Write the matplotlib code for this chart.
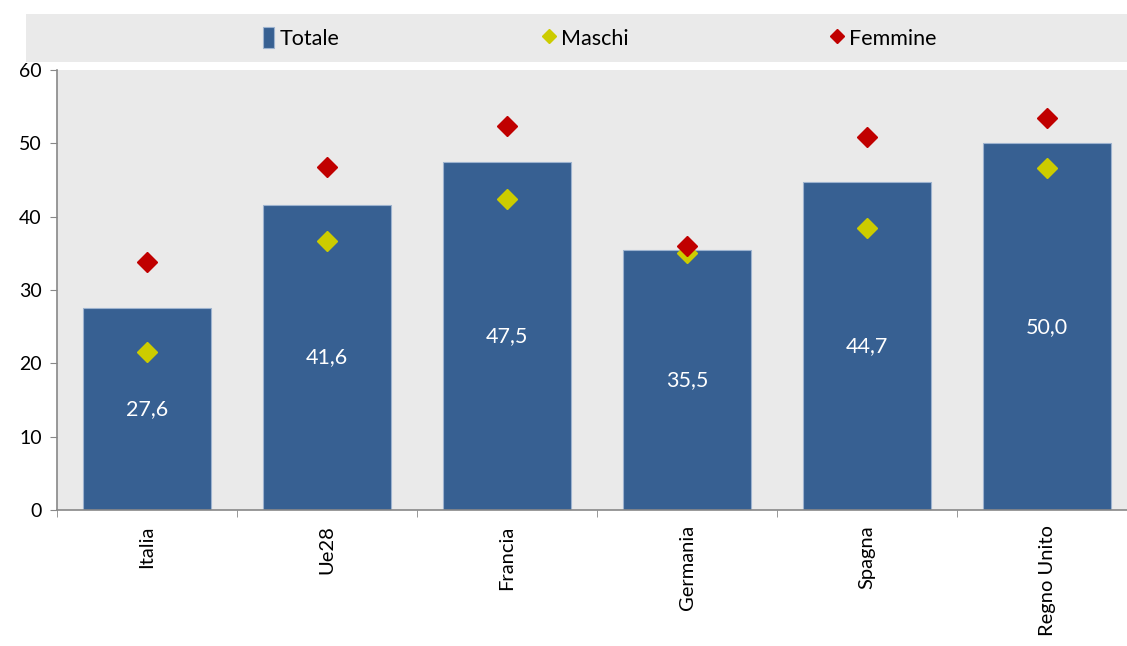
# bar chart with male / female markers per country
import matplotlib.pyplot as plt
import numpy as np
from matplotlib.patches import Rectangle

paesi = ["Italia", "Ue28", "Francia", "Germania", "Spagna", "Regno Unito"]
totale = [27.6, 41.6, 47.5, 35.5, 44.7, 50.0]
maschi = [21.6, 36.7, 42.4, 35.1, 38.5, 46.6]
femmine = [33.8, 46.8, 52.3, 36.0, 50.9, 53.4]

plt.rcParams['font.family'] = ['Lato', 'DejaVu Sans']

fig = plt.figure(figsize=(11.27, 6.46), dpi=100)
ax = fig.add_axes([0.0506, 0.2105, 0.9494, 0.6811])
ax.set_facecolor('#EAEAEA')

x = np.arange(len(paesi))
bars = ax.bar(x, totale, width=0.71, color='#376092', edgecolor='#9DB3CF',
              linewidth=0.8, label='Totale', zorder=2)
m_line, = ax.plot(x, maschi, 'D', color='#CCCC00', ms=10, label='Maschi', zorder=3)
f_line, = ax.plot(x, femmine, 'D', color='#C00000', ms=10, label='Femmine', zorder=4)

for xi, v in zip(x, totale):
    ax.text(xi, v / 2, f"{v:.1f}".replace('.', ','), ha='center', va='center',
            color='white', fontsize=15.5, zorder=5)

ax.set_yticks(range(0, 61, 10))
ax.set_xticks(x)
ax.set_xticklabels(paesi, rotation=90, fontsize=14.5)
ax.set_xticks(np.arange(-0.5, 5.0, 1), minor=True)
ax.set_xlim(-0.5, 5.444)
ax.set_ylim(0, 60)
ax.tick_params(axis='y', labelsize=14, length=5, color='#888888', pad=6)
ax.tick_params(axis='x', length=0, pad=11)
ax.tick_params(axis='x', which='minor', length=5, color='#888888')

for s in ['top', 'right']:
    ax.spines[s].set_visible(False)
for s in ['left', 'bottom']:
    ax.spines[s].set_color('#888888')
    ax.spines[s].set_linewidth(1.2)

# legend strip
fig.patches.append(Rectangle((0.023, 0.904), 0.977, 0.074, transform=fig.transFigure,
                             facecolor='#EAEAEA', edgecolor='none', zorder=0))
leg = fig.legend([bars, m_line, f_line], ['Totale', 'Maschi', 'Femmine'], loc='center',
                 bbox_to_anchor=(0.532, 0.941), ncol=3, frameon=False, fontsize=15.5,
                 columnspacing=9.45, handlelength=0.5, handleheight=1.1,
                 handletextpad=0.3, markerscale=0.7)

fig.savefig('out.png', dpi=100)
